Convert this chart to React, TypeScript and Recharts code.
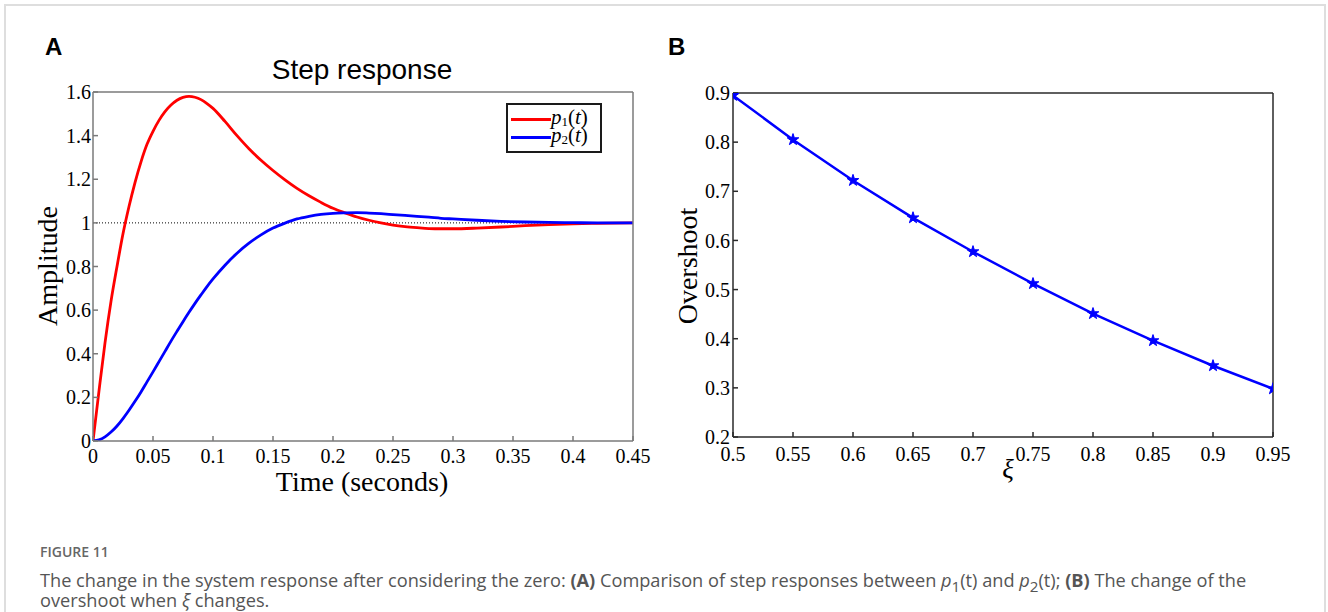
import React from "react";
import {
  LineChart,
  Line,
  XAxis,
  YAxis,
  ReferenceLine,
  Legend,
  Symbols,
} from "recharts";

// Panel A: step responses p1(t) and p2(t)
const stepTime = [
  0, 0.005, 0.01, 0.015, 0.02, 0.025, 0.03, 0.035, 0.04, 0.045, 0.05, 0.055,
  0.06, 0.065, 0.07, 0.075, 0.08, 0.085, 0.09, 0.095, 0.1, 0.11, 0.12, 0.13,
  0.14, 0.15, 0.16, 0.17, 0.18, 0.19, 0.2, 0.21, 0.22, 0.23, 0.24, 0.25, 0.26,
  0.27, 0.28, 0.29, 0.3, 0.32, 0.34, 0.36, 0.38, 0.4, 0.42, 0.45,
];
const p1Values = [
  0, 0.23, 0.45, 0.64, 0.8, 0.95, 1.075, 1.185, 1.28, 1.36, 1.42, 1.47, 1.51,
  1.54, 1.562, 1.575, 1.58, 1.576, 1.565, 1.547, 1.525, 1.465, 1.4, 1.34, 1.287,
  1.24, 1.197, 1.158, 1.124, 1.094, 1.067, 1.046, 1.027, 1.012, 1.0, 0.99,
  0.983, 0.978, 0.974, 0.973, 0.973, 0.976, 0.981, 0.987, 0.992, 0.996, 0.998,
  1.0,
];
const p2Values = [
  0, 0.005, 0.019, 0.041, 0.069, 0.103, 0.141, 0.182, 0.225, 0.271, 0.317,
  0.364, 0.411, 0.458, 0.503, 0.547, 0.59, 0.631, 0.67, 0.708, 0.743, 0.806,
  0.861, 0.907, 0.945, 0.976, 0.999, 1.018, 1.03, 1.039, 1.044, 1.046, 1.047,
  1.045, 1.042, 1.038, 1.034, 1.03, 1.026, 1.021, 1.018, 1.012, 1.007, 1.004,
  1.002, 1.001, 1.0, 1.0,
];
const timeTicks = [0, 0.05, 0.1, 0.15, 0.2, 0.25, 0.3, 0.35, 0.4, 0.45];
const amplitudeTicks = [0, 0.2, 0.4, 0.6, 0.8, 1, 1.2, 1.4, 1.6];

// Panel B: overshoot against damping ratio
const xiValues = [0.5, 0.55, 0.6, 0.65, 0.7, 0.75, 0.8, 0.85, 0.9, 0.95];
const overshootValues = [
  0.895, 0.805, 0.722, 0.646, 0.577, 0.512, 0.451, 0.396, 0.345, 0.298,
];
const xiTicks = [0.5, 0.55, 0.6, 0.65, 0.7, 0.75, 0.8, 0.85, 0.9, 0.95];
const overshootTicks = [0.2, 0.3, 0.4, 0.5, 0.6, 0.7, 0.8, 0.9];

const stepData = stepTime.map((t, i) => ({
  t,
  p1: p1Values[i],
  p2: p2Values[i],
}));
const overshootData = xiValues.map((xi, i) => ({
  xi,
  overshoot: overshootValues[i],
}));

const SERIF = "'Liberation Serif', 'Times New Roman', serif";
const SANS = "'Liberation Sans', Arial, sans-serif";
const tickStyle = { fill: "#000", fontSize: 20, fontFamily: SERIF };

const frame = (stroke: string) => ({ stroke, strokeWidth: 1.5 });

const LegendBox = (props: any) => {
  const items = props.payload || [];
  return (
    <div
      style={{
        boxSizing: "border-box",
        width: 96,
        height: 50,
        border: "2px solid #1a1a1a",
        background: "#fff",
        paddingTop: 5,
      }}
    >
      {items.map((entry: any) => (
        <div
          key={entry.value}
          style={{ display: "flex", alignItems: "center", height: 18 }}
        >
          <div
            style={{
              width: 40,
              height: 3,
              marginLeft: 3,
              background: entry.color,
            }}
          />
          <span
            style={{
              fontFamily: SERIF,
              fontSize: 21,
              lineHeight: "18px",
              color: "#000",
              whiteSpace: "nowrap",
            }}
          >
            <i>p</i>
            <span style={{ fontSize: "0.62em", verticalAlign: "-0.15em" }}>
              {String(entry.value).charAt(1)}
            </span>
            (<i>t</i>)
          </span>
        </div>
      ))}
    </div>
  );
};

const StarDot = (props: any) => {
  const { cx, cy, index } = props;
  return (
    <Symbols
      key={`star-${index}`}
      cx={cx}
      cy={cy}
      type="star"
      size={42}
      fill="#0000ff"
      stroke="#0000ff"
    />
  );
};

const StepPanel: React.FC = () => {
  const c = "#7a7a7a";
  return (
    <LineChart
      width={660}
      height={520}
      data={stepData}
      margin={{ top: 91, right: 26, left: 33, bottom: 39 }}
    >
      <XAxis
        dataKey="t"
        type="number"
        domain={[0, 0.45]}
        ticks={timeTicks}
        allowDataOverflow
        height={40}
        axisLine={frame(c)}
        tickLine={frame(c)}
        tickSize={-5}
        tickMargin={13}
        tick={tickStyle}
        interval={0}
      />
      <XAxis
        xAxisId="top"
        orientation="top"
        dataKey="t"
        type="number"
        domain={[0, 0.45]}
        ticks={timeTicks}
        allowDataOverflow
        height={1}
        axisLine={frame(c)}
        tickLine={frame(c)}
        tickSize={-5}
        tick={false}
        interval={0}
      />
      <YAxis
        type="number"
        domain={[0, 1.6]}
        ticks={amplitudeTicks}
        allowDataOverflow
        width={60}
        axisLine={frame(c)}
        tickLine={frame(c)}
        tickSize={-5}
        tickMargin={7}
        tick={tickStyle}
        interval={0}
      />
      <YAxis
        yAxisId="right"
        orientation="right"
        type="number"
        domain={[0, 1.6]}
        ticks={amplitudeTicks}
        allowDataOverflow
        width={1}
        axisLine={frame(c)}
        tickLine={frame(c)}
        tickSize={-5}
        tick={false}
        interval={0}
      />
      <ReferenceLine y={1} stroke="#000" strokeWidth={1} strokeDasharray="1 2" />
      <Line
        dataKey="p1"
        name="p1(t)"
        type="monotone"
        stroke="#ff0000"
        strokeWidth={2.8}
        dot={false}
        isAnimationActive={false}
      />
      <Line
        dataKey="p2"
        name="p2(t)"
        type="monotone"
        stroke="#0000ff"
        strokeWidth={2.8}
        dot={false}
        isAnimationActive={false}
      />
      <Legend
        layout="vertical"
        align="center"
        verticalAlign="middle"
        content={LegendBox}
        wrapperStyle={{ left: 506, top: 103, width: 96, height: 50 }}
      />
    </LineChart>
  );
};

const OvershootPanel: React.FC = () => {
  const c = "#2a2a2a";
  return (
    <LineChart
      width={668}
      height={520}
      data={overshootData}
      margin={{ top: 92, right: 54, left: 13, bottom: 43 }}
    >
      <XAxis
        dataKey="xi"
        type="number"
        domain={[0.5, 0.95]}
        ticks={xiTicks}
        allowDataOverflow
        height={40}
        axisLine={frame(c)}
        tickLine={frame(c)}
        tickSize={-5}
        tickMargin={15}
        tick={tickStyle}
        interval={0}
      />
      <XAxis
        xAxisId="top"
        orientation="top"
        dataKey="xi"
        type="number"
        domain={[0.5, 0.95]}
        ticks={xiTicks}
        allowDataOverflow
        height={1}
        axisLine={frame(c)}
        tickLine={frame(c)}
        tickSize={-5}
        tick={false}
        interval={0}
      />
      <YAxis
        type="number"
        domain={[0.2, 0.9]}
        ticks={overshootTicks}
        allowDataOverflow
        width={60}
        axisLine={frame(c)}
        tickLine={frame(c)}
        tickSize={-5}
        tickMargin={8}
        tick={tickStyle}
        interval={0}
      />
      <YAxis
        yAxisId="right"
        orientation="right"
        type="number"
        domain={[0.2, 0.9]}
        ticks={overshootTicks}
        allowDataOverflow
        width={1}
        axisLine={frame(c)}
        tickLine={frame(c)}
        tickSize={-5}
        tick={false}
        interval={0}
      />
      <Line
        dataKey="overshoot"
        type="linear"
        stroke="#0000ff"
        strokeWidth={2.5}
        dot={StarDot}
        isAnimationActive={false}
      />
    </LineChart>
  );
};

const captionStyle: React.CSSProperties = {
  position: "absolute",
  left: 40,
  fontFamily: "'Open Sans', sans-serif",
  fontSize: 18.2,
  lineHeight: "24px",
  color: "#555",
  whiteSpace: "nowrap",
};

const App: React.FC = () => {
  return (
    <div
      style={{
        position: "absolute",
        left: 0,
        top: 0,
        width: 1328,
        height: 612,
        background: "#fff",
        overflow: "hidden",
      }}
    >
      <div
        style={{
          position: "absolute",
          left: 4,
          top: 4,
          width: 1322,
          height: 700,
          boxSizing: "border-box",
          border: "2px solid #dedede",
        }}
      />
      <div style={{ position: "absolute", left: 0, top: 0 }}>
        <StepPanel />
      </div>
      <div style={{ position: "absolute", left: 660, top: 0 }}>
        <OvershootPanel />
      </div>

      {/* panel letters, titles and axis labels */}
      <svg
        width={1328}
        height={520}
        style={{ position: "absolute", left: 0, top: 0, pointerEvents: "none" }}
      >
        <text x={45} y={55} fontFamily={SANS} fontWeight="bold" fontSize={24}>
          A
        </text>
        <text x={668} y={55} fontFamily={SANS} fontWeight="bold" fontSize={24}>
          B
        </text>
        <text x={362} y={79} textAnchor="middle" fontFamily={SANS} fontSize={28}>
          Step response
        </text>
        <text
          x={57}
          y={266}
          textAnchor="middle"
          fontFamily={SERIF}
          fontSize={28}
          transform="rotate(-90 57 266)"
        >
          Amplitude
        </text>
        <text x={362} y={491} textAnchor="middle" fontFamily={SERIF} fontSize={28}>
          Time (seconds)
        </text>
        <text
          x={697}
          y={266}
          textAnchor="middle"
          fontFamily={SERIF}
          fontSize={28}
          transform="rotate(-90 697 266)"
        >
          Overshoot
        </text>
        <text
          x={1008}
          y={478}
          textAnchor="middle"
          fontFamily={SERIF}
          fontStyle="italic"
          fontSize={27}
        >
          ξ
        </text>
      </svg>

      <div
        style={{
          ...captionStyle,
          top: 542,
          fontSize: 14,
          lineHeight: "20px",
          fontWeight: 600,
          color: "#666",
        }}
      >
        FIGURE 11
      </div>
      <div style={{ ...captionStyle, top: 568 }}>
        The change in the system response after considering the zero:{" "}
        <b>(A)</b> Comparison of step responses between <i>p</i>
        <sub style={{ lineHeight: 0 }}>1</sub>(t) and <i>p</i>
        <sub style={{ lineHeight: 0 }}>2</sub>(t); <b>(B)</b> The change of the
      </div>
      <div style={{ ...captionStyle, top: 589, lineHeight: "22px" }}>
        overshoot when <i>ξ</i> changes.
      </div>
    </div>
  );
};

export default App;
